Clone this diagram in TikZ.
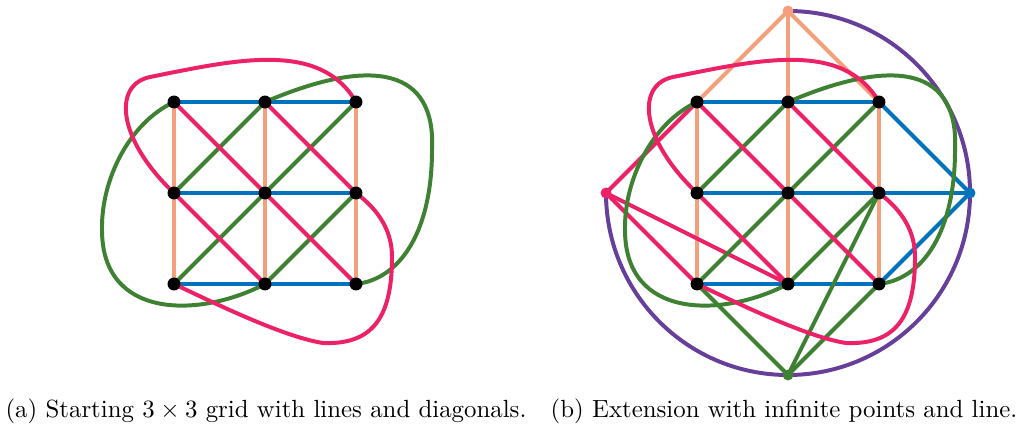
\documentclass[tikz,border=0pt]{standalone}
\definecolor{cblue}{HTML}{0173BC}
\definecolor{corange}{HTML}{F5A07C}
\definecolor{cpink}{HTML}{EC2166}
\definecolor{cgreen}{HTML}{3F8133}
\definecolor{cpurple}{HTML}{653F9A}
\begin{document}
\begin{tikzpicture}[x=0.4025pt,y=-0.4025pt,
  ln/.style={line width=1.6pt},
  hline/.style={ln,cblue},
  vline/.style={ln,corange},
  pline/.style={ln,cpink},
  gline/.style={ln,cgreen},
  cline/.style={ln,cpurple},
  dot/.style={circle,fill=black,inner sep=0pt,minimum size=5.2pt},
  idot/.style={circle,fill=#1,inner sep=0pt,minimum size=4.4pt}]
\useasboundingbox (0,0) rectangle (1021,428);
% ---------- grid coordinates ----------
\foreach \i/\x in {0/174,1/265,2/356}{
  \foreach \j/\y in {0/102,1/193,2/284}{
    \coordinate (a\i\j) at (\x,\y);
    \coordinate (b\i\j) at (\x+523,\y);
  }}
\coordinate (tinf) at (788,11);
\coordinate (linf) at (606,193);
\coordinate (rinf) at (970,193);
\coordinate (binf) at (788,375);
% ---------- circle at infinity ----------
\draw[cline] (tinf) arc[start angle=-90,end angle=180,radius=182];
% ---------- lines ----------
\foreach \p in {a,b}{
  \foreach \i in {0,1,2}{\draw[vline] (\p\i0) -- (\p\i2);}
}
\draw[vline] (tinf) -- (b00);
\draw[vline] (tinf) -- (b10);
\draw[vline] (tinf) -- (b20);
\foreach \p in {a,b}{
  \foreach \j in {0,1,2}{\draw[hline] (\p0\j) -- (\p2\j);}
}
\draw[hline] (rinf) -- (b20);
\draw[hline] (rinf) -- (b21);
\draw[hline] (rinf) -- (b22);
\draw[gline] (binf) -- (b02);
\draw[gline] (binf) -- (b21);
\draw[gline] (binf) -- (b22);
\draw[pline] (linf) -- (b00);
\draw[pline] (linf) -- (b02);
\draw[pline] (linf) -- (b12);
\foreach \p/\s in {a/0,b/523}{
  \draw[gline] (\p02) -- (\p20);
  \draw[gline] (\p01) -- (\p10);
  \draw[gline] (\p12) -- (\p21);
  \begin{scope}[xshift=\s*0.4025pt]
    \coordinate (\p gr) at (432,150);
    \coordinate (\p gl) at (102,230);
    \draw[gline] (\p10) .. controls (375,55) and (436,70) .. (\p gr)
                 .. controls (432,230) and (401,279) .. (\p22);
    \draw[gline] (\p00) .. controls (129,123) and (101,180) .. (\p gl)
                 .. controls (102,320) and (200,318) .. (\p12);
  \end{scope}
  \draw[pline] (\p00) -- (\p22);
  \draw[pline] (\p10) -- (\p21);
  \draw[pline] (\p01) -- (\p12);
  \begin{scope}[xshift=\s*0.4025pt]
    \coordinate (\p pt) at (150,77);
    \coordinate (\p pr) at (392,257);
    \coordinate (\p pb) at (323,343);
    \draw[pline] (\p20) .. controls (320,40) and (235,60) .. (\p pt)
                 .. controls (112,85) and (118,140) .. (\p01);
    \draw[pline] (\p21) .. controls (380,211) and (392,232) .. (\p pr)
                 .. controls (392,317) and (373,345) .. (\p pb)
                 .. controls (283,337) and (210,301) .. (\p02);
  \end{scope}
}
% ---------- points ----------
\foreach \p in {a,b}{
  \foreach \i in {0,1,2}{\foreach \j in {0,1,2}{\node[dot] (n\p\i\j) at (\p\i\j) {};}}
}
\node[idot=corange] (ntinf) at (tinf) {};
\node[idot=cpink] (nlinf) at (linf) {};
\node[idot=cblue] (nrinf) at (rinf) {};
\node[idot=cgreen] (nbinf) at (binf) {};
% ---------- captions ----------
\node (capa) at (266,411) {(a) Starting $3\times3$ grid with lines and diagonals.};
\node (capb) at (784,411) {(b) Extension with infinite points and line.};
\end{tikzpicture}
\end{document}
